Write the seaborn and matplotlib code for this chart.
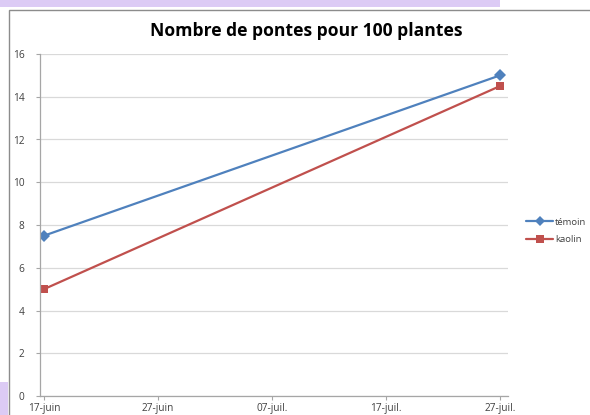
import matplotlib
matplotlib.use("Agg")
import matplotlib.pyplot as plt
import seaborn as sns
import pandas as pd
import numpy as np
from matplotlib.patches import Rectangle
from matplotlib.lines import Line2D

dates = ["2013-06-17", "2013-07-27"]
temoin = [7.5, 15.0]
kaolin = [5.0, 14.5]
tick_dates = ["2013-06-17", "2013-06-27", "2013-07-07", "2013-07-17", "2013-07-27"]
tick_labels = ["17-juin", "27-juin", "07-juil.", "17-juil.", "27-juil."]
y_ticks = [0, 2, 4, 6, 8, 10, 12, 14, 16]

sns.set_theme(style="white")
plt.rcParams['font.family'] = ['Open Sans', 'DejaVu Sans']

start = pd.Timestamp(dates[0])
def day(d):
    return (pd.Timestamp(d) - start).days

df = pd.DataFrame({
    "jour": [day(d) for d in dates] * 2,
    "valeur": temoin + kaolin,
    "serie": ["témoin"] * len(dates) + ["kaolin"] * len(dates),
})

fig = plt.figure(figsize=(5.9, 4.15), dpi=100)
W, H = 590, 415

# background decorations
fig.patches.append(Rectangle((0, 1 - 7 / H), 500 / W, 7 / H, transform=fig.transFigure,
                             facecolor="#dccbf5", edgecolor="none", zorder=-10))
fig.patches.append(Rectangle((0, 0), 8 / W, 33 / H, transform=fig.transFigure,
                             facecolor="#dccbf5", edgecolor="none", zorder=-10))
fig.patches.append(Rectangle((8.5 / W, -0.05), 1.0, 1 - 10 / H + 0.05, transform=fig.transFigure,
                             facecolor="white", edgecolor="#8c8c8c", linewidth=1.0, zorder=-9))

ax = fig.add_axes([40 / W, 19 / H, (508 - 40) / W, (396 - 54) / H])
ax.set_facecolor("none")
ax.set_zorder(5)

palette = {"témoin": "#4F81BD", "kaolin": "#C0504D"}
markers = {"témoin": "D", "kaolin": "s"}
sns.lineplot(data=df, x="jour", y="valeur", hue="serie", style="serie",
             palette=palette, markers=markers, dashes=False, markersize=6,
             markeredgewidth=0, linewidth=1.6, ax=ax, legend=False)

ax.set_xlim(-0.35, 40.7)
ax.set_ylim(0, 16)
ax.set_yticks(y_ticks)
ax.set_yticklabels([str(v) for v in y_ticks])
ax.set_xticks([day(d) for d in tick_dates])
ax.set_xticklabels(tick_labels)
ax.grid(axis="y", color="#d9d9d9", linewidth=0.9)
ax.set_axisbelow(True)
for s in ["top", "right"]:
    ax.spines[s].set_visible(False)
for s in ["left", "bottom"]:
    ax.spines[s].set_color("#a6a6a6")
    ax.spines[s].set_linewidth(0.9)
ax.tick_params(axis="both", which="major", length=3, width=0.8, color="#a6a6a6",
               labelsize=7.3, labelcolor="#404040", direction="out", pad=2)
ax.tick_params(axis="y", left=True, pad=8)
ax.tick_params(axis="x", bottom=True, pad=2)
ax.set_xlabel("")
ax.set_ylabel("")

fig.text(306 / W, 1 - 31 / H, "Nombre de pontes pour 100 plantes", ha="center", va="center",
         fontsize=12.6, fontweight="bold", color="#000000")

handles = [Line2D([], [], color=palette[k], marker=markers[k], markersize=5 if k == "témoin" else 5.5,
                  markeredgewidth=0, linewidth=1.6) for k in ["témoin", "kaolin"]]
fig.legend(handles, ["témoin", "kaolin"], loc="center left", bbox_to_anchor=(526 / W, 1 - 231 / H),
           frameon=False, fontsize=6.8, handlelength=2.9, handletextpad=0.15, labelspacing=0.95,
           borderpad=0, borderaxespad=0, labelcolor="#404040")

fig.savefig("out.png", dpi=100)
